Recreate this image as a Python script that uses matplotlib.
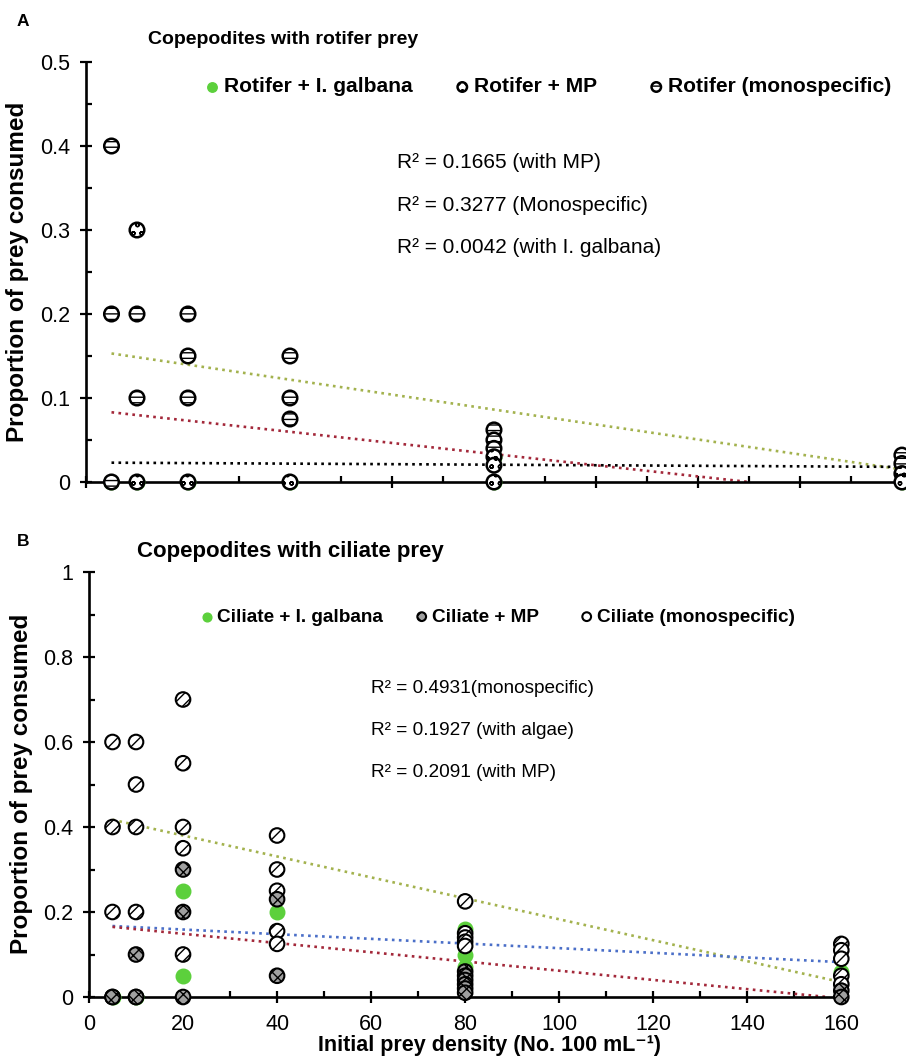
import numpy as np
import matplotlib.pyplot as plt
from matplotlib.ticker import MultipleLocator, NullFormatter

plt.rcParams['font.family'] = ['Liberation Sans', 'DejaVu Sans']

# Panel A - rotifer prey
rot_mono_x = [5, 5, 5, 10, 10, 20, 20, 20, 40, 40, 40, 80, 80, 80, 160, 160]
rot_mono_y = [0.4, 0.2, 0, 0.2, 0.1, 0.2, 0.15, 0.1, 0.15, 0.1, 0.075, 0.062, 0.05, 0.04, 0.032, 0.022]
rot_mp_x = [10, 10, 20, 40, 80, 80, 80, 160, 160]
rot_mp_y = [0.3, 0, 0, 0, 0.03, 0.02, 0, 0.01, 0]
rot_alg_x = [5, 10, 20, 40, 80, 80, 160]
rot_alg_y = [0, 0, 0, 0, 0.03, 0, 0]

# trend lines A (end points)
rot_trend_mono = ([5, 160], [0.153, 0.015])
rot_trend_mp = ([5, 130], [0.083, 0.0])
rot_trend_alg = ([5, 160], [0.023, 0.018])
rot_r2 = ['R² = 0.1665 (with MP)', 'R² = 0.3277 (Monospecific)', 'R² = 0.0042 (with I. galbana)']
rot_r2_y = [0.38, 0.329, 0.279]

# Panel B - ciliate prey
cil_mono_x = [5, 5, 5, 5, 10, 10, 10, 10, 10, 20, 20, 20, 20, 20, 40, 40, 40, 40, 40,
              80, 80, 80, 80, 80, 160, 160, 160, 160, 160]
cil_mono_y = [0.6, 0.4, 0.2, 0, 0.6, 0.5, 0.4, 0.2, 0, 0.7, 0.55, 0.4, 0.35, 0.1, 0.38, 0.3, 0.25, 0.155, 0.125,
              0.225, 0.15, 0.14, 0.13, 0.12, 0.125, 0.11, 0.09, 0.05, 0.03]
cil_mp_x = [5, 10, 10, 20, 20, 20, 40, 40, 80, 80, 80, 80, 80, 80, 160, 160]
cil_mp_y = [0, 0.1, 0, 0.3, 0.2, 0, 0.23, 0.05, 0.06, 0.05, 0.04, 0.03, 0.02, 0.01, 0.015, 0]
cil_alg_x = [5, 10, 20, 20, 40, 80, 80, 80, 160]
cil_alg_y = [0, 0, 0.25, 0.05, 0.2, 0.16, 0.1, 0.07, 0.06]

cil_trend_mono = ([5, 160], [0.417, 0.035])
cil_trend_alg = ([5, 160], [0.167, 0.082])
cil_trend_mp = ([5, 157], [0.165, 0.0])
cil_r2 = ['R² = 0.4931(monospecific)', 'R² = 0.1927 (with algae)', 'R² = 0.2091 (with MP)']
cil_r2_y = [0.727, 0.626, 0.529]

W, H = 906, 1060
fig = plt.figure(figsize=(W / 100, H / 100), dpi=100)

green = '#5cd03c'
olive = '#a3b24e'
red = '#a3283a'
blue = '#4b6fc8'


def style_axis(ax):
    for s in ['top', 'right']:
        ax.spines[s].set_visible(False)
    for s in ['left', 'bottom']:
        ax.spines[s].set_linewidth(1.9)
    ax.tick_params(which='major', direction='inout', length=8, width=1.6, labelsize=15.5)
    ax.tick_params(which='minor', direction='in', length=4, width=1.6)
    ax.tick_params(axis='y', pad=7.5)


def put_legends(ax, handles, labels, xs, y, size, scale):
    # one small legend per entry, placed where the reference has it
    for i, (hd, lb, x) in enumerate(zip(handles, labels, xs)):
        lg = ax.legend([hd], [lb], frameon=False, loc='center left', bbox_to_anchor=(x, y),
                       bbox_transform=fig.transFigure, borderpad=0, borderaxespad=0,
                       handlelength=0.6, handletextpad=0.25, markerscale=scale,
                       prop={'weight': 'bold', 'size': size})
        if i < len(handles) - 1:
            ax.add_artist(lg)
    return lg


# ---------- Panel A ----------
axA = fig.add_axes([86 / W, 1 - 482 / H, 820 / W, 420 / H])
sA_alg = axA.scatter(rot_alg_x, rot_alg_y, s=110, color=green, zorder=3, clip_on=False)
sA_mono = axA.scatter(rot_mono_x, rot_mono_y, s=110, facecolor='white', edgecolor='black', linewidth=1.8,
                      hatch='---', zorder=4, clip_on=False)
sA_mp = axA.scatter(rot_mp_x, rot_mp_y, s=110, facecolor='white', edgecolor='black', linewidth=1.8,
                    hatch='oo', zorder=5, clip_on=False)
axA.plot(*rot_trend_mono, ':', color=olive, lw=1.9, zorder=2)
axA.plot(*rot_trend_mp, ':', color=red, lw=1.9, zorder=2)
axA.plot(*rot_trend_alg, ':', color='black', lw=1.9, zorder=2)
axA.set_xlim(0, 160.8)
axA.set_ylim(0, 0.5)
style_axis(axA)
axA.xaxis.set_major_locator(MultipleLocator(20))
axA.xaxis.set_minor_locator(MultipleLocator(10))
axA.xaxis.set_major_formatter(NullFormatter())
axA.yaxis.set_minor_locator(MultipleLocator(0.05))
axA.set_yticks([0, 0.1, 0.2, 0.3, 0.4, 0.5])
axA.set_yticklabels(['0', '0.1', '0.2', '0.3', '0.4', '0.5'])

put_legends(axA, [sA_alg, sA_mp, sA_mono],
            ['Rotifer + I. galbana', 'Rotifer + MP', 'Rotifer (monospecific)'],
            [206 / W, 456 / W, 650 / W], 1 - 87 / H, 15.1, 0.65)

for t, yy in zip(rot_r2, rot_r2_y):
    axA.text(61, yy, t, fontsize=15, va='center', ha='left')

fig.text(17 / W, 1 - 21 / H, 'A', fontsize=12.5, fontweight='bold', va='center', ha='left')
fig.text(148 / W, 1 - 40 / H, 'Copepodites with rotifer prey', fontsize=14, fontweight='bold',
         va='center', ha='left')
fig.text(18 / W, 1 - 272 / H, 'Proportion of prey consumed', fontsize=17.5, fontweight='bold',
         rotation=90, va='center', ha='center')

# ---------- Panel B ----------
axB = fig.add_axes([89 / W, 1 - 997 / H, 757 / W, 425 / H])
sB_alg = axB.scatter(cil_alg_x, cil_alg_y, s=110, color=green, zorder=3, clip_on=False)
sB_mono = axB.scatter(cil_mono_x, cil_mono_y, s=110, facecolor='white', edgecolor='black', linewidth=1.5,
                      hatch='///', zorder=4, clip_on=False)
sB_mp = axB.scatter(cil_mp_x, cil_mp_y, s=110, facecolor='#a0a0a0', edgecolor='black', linewidth=1.5,
                    hatch='xxx', zorder=4.5, clip_on=False)
axB.plot(*cil_trend_mono, ':', color=olive, lw=1.9, zorder=2)
axB.plot(*cil_trend_alg, ':', color=blue, lw=1.9, zorder=2)
axB.plot(*cil_trend_mp, ':', color=red, lw=1.9, zorder=2)
axB.set_xlim(0, 161)
axB.set_ylim(0, 1)
style_axis(axB)
axB.xaxis.set_major_locator(MultipleLocator(20))
axB.xaxis.set_minor_locator(MultipleLocator(10))
axB.yaxis.set_minor_locator(MultipleLocator(0.1))
axB.set_yticks([0, 0.2, 0.4, 0.6, 0.8, 1.0])
axB.set_yticklabels(['0', '0.2', '0.4', '0.6', '0.8', '1'])
axB.tick_params(axis='x', pad=8)

legB = put_legends(axB, [sB_alg, sB_mp, sB_mono],
                   ['Ciliate + I. galbana', 'Ciliate + MP', 'Ciliate (monospecific)'],
                   [201 / W, 416 / W, 581 / W], 1 - 617 / H, 13.7, 0.6)
legB.legend_handles[0].set_hatch('')

for t, yy in zip(cil_r2, cil_r2_y):
    axB.text(60, yy, t, fontsize=13.7, va='center', ha='left')

fig.text(17 / W, 1 - 541 / H, 'B', fontsize=12.5, fontweight='bold', va='center', ha='left')
fig.text(137 / W, 1 - 552 / H, 'Copepodites with ciliate prey', fontsize=16, fontweight='bold',
         va='center', ha='left')
fig.text(22 / W, 1 - 784 / H, 'Proportion of prey consumed', fontsize=17.5, fontweight='bold',
         rotation=90, va='center', ha='center')
fig.text(490 / W, 1 - 1045 / H, 'Initial prey density (No. 100 mL⁻¹)', fontsize=15.5,
         fontweight='bold', va='center', ha='center')

fig.savefig('out.png', dpi=100)
